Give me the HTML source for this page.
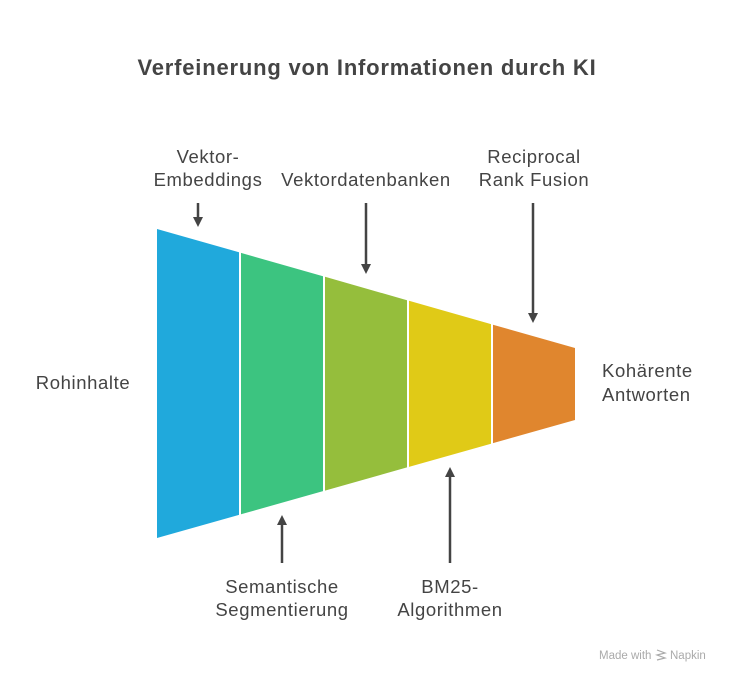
<!DOCTYPE html>
<html><head><meta charset="utf-8"><style>
body{margin:0;background:#fff;width:732px;height:682px;overflow:hidden}
svg text{font-family:"Liberation Sans",sans-serif;fill:#444}
</style></head><body>
<svg width="732" height="682" viewBox="0 0 732 682">
<text x="367" y="75" text-anchor="middle" font-size="22" font-weight="bold" letter-spacing="0.8">Verfeinerung von Informationen durch KI</text>
<polygon points="157,229 239,252.3 239,514.9 157,538" fill="#20A9DC"/>
<polygon points="241,252.9 323,276.3 323,491.1 241,514.3" fill="#3CC480"/>
<polygon points="325,276.8 407,300.2 407,467.4 325,490.6" fill="#95BE3C"/>
<polygon points="409,300.7 491,324.1 491,443.7 409,466.9" fill="#E0CA17"/>
<polygon points="493,324.7 575,348 575,420 493,443.1" fill="#E0862E"/>
<g stroke="#444" stroke-width="2.5">
<line x1="198" y1="203" x2="198" y2="219"/>
<line x1="366" y1="203" x2="366" y2="266"/>
<line x1="533" y1="203" x2="533" y2="315"/>
<line x1="282" y1="563" x2="282" y2="523"/>
<line x1="450" y1="563" x2="450" y2="475"/>
</g>
<g fill="#444">
<polygon points="193,217 203,217 198,227"/>
<polygon points="361,264 371,264 366,274"/>
<polygon points="528,313 538,313 533,323"/>
<polygon points="277,525 287,525 282,515"/>
<polygon points="445,477 455,477 450,467"/>
</g>
<g font-size="18.5" letter-spacing="0.6">
<text x="208" y="163" text-anchor="middle">Vektor-</text>
<text x="208" y="186" text-anchor="middle">Embeddings</text>
<text x="366" y="186" text-anchor="middle">Vektordatenbanken</text>
<text x="534" y="163" text-anchor="middle">Reciprocal</text>
<text x="534" y="186" text-anchor="middle">Rank Fusion</text>
<text x="83" y="389" text-anchor="middle">Rohinhalte</text>
<text x="602" y="377">Kohärente</text>
<text x="602" y="401">Antworten</text>
<text x="282" y="593" text-anchor="middle">Semantische</text>
<text x="282" y="616" text-anchor="middle">Segmentierung</text>
<text x="450" y="593" text-anchor="middle">BM25-</text>
<text x="450" y="616" text-anchor="middle">Algorithmen</text>
</g>
<text x="599" y="659" font-size="11.5" style="fill:#aaa">Made with</text>
<text x="670" y="659" font-size="11.5" style="fill:#aaa">Napkin</text>
<path d="M657,650 l8,3 -8,2 8,3 -8,2" stroke="#aaa" stroke-width="1.2" fill="none"/>
</svg>
</body></html>
